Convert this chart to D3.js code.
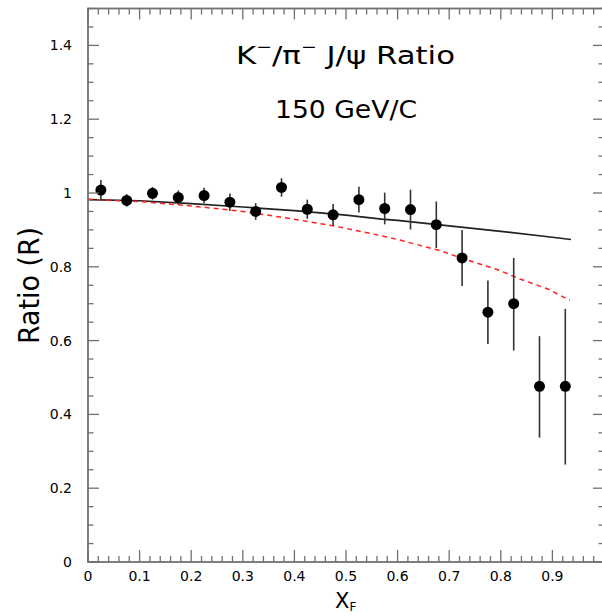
<!DOCTYPE html>
<html>
<head>
<meta charset="utf-8">
<script src="https://cdn.jsdelivr.net/npm/d3@7"></script>
<style>
  html, body { margin: 0; padding: 0; background: #fff; }
  svg { display: block; }
  text { font-family: "DejaVu Sans", sans-serif; fill: #000; }
</style>
</head>
<body>
<svg id="chart" width="602" height="616"></svg>
<script>
// ---- data ----
const xf      = [0.025,0.075,0.125,0.175,0.225,0.275,0.325,0.375,0.425,0.475,0.525,0.575,0.625,0.675,0.725,0.775,0.825,0.875,0.925];
const ratio   = [1.008,0.980,0.999,0.988,0.993,0.975,0.950,1.015,0.956,0.941,0.982,0.958,0.955,0.914,0.824,0.677,0.700,0.476,0.476];
const errLo   = [0.027,0.017,0.017,0.019,0.021,0.0235,0.0225,0.025,0.026,0.029,0.035,0.043,0.054,0.063,0.076,0.086,0.127,0.139,0.212];
const errHi   = [0.027,0.017,0.017,0.019,0.021,0.0235,0.0225,0.025,0.026,0.029,0.035,0.043,0.054,0.063,0.076,0.086,0.124,0.136,0.210];

const solidX  = [0, 0.1, 0.2, 0.3, 0.4, 0.5, 0.569, 0.6, 0.7, 0.8, 0.9, 0.936];
const solidY  = [0.982, 0.979, 0.971, 0.962, 0.952, 0.940, 0.929, 0.926, 0.911, 0.896, 0.880, 0.874];

const dashX   = [0, 0.1, 0.175, 0.2, 0.3, 0.325, 0.4, 0.475, 0.5, 0.569, 0.6, 0.682, 0.725, 0.798, 0.837, 0.891, 0.934];
const dashY   = [0.983, 0.977, 0.968, 0.965, 0.950, 0.945, 0.929, 0.911, 0.904, 0.884, 0.874, 0.844, 0.823, 0.790, 0.767, 0.740, 0.709];

const xTickVals = [0,0.1,0.2,0.3,0.4,0.5,0.6,0.7,0.8,0.9];
const xTickLabels = ["0","0.1","0.2","0.3","0.4","0.5","0.6","0.7","0.8","0.9"];
const yTickVals = [0,0.2,0.4,0.6,0.8,1.0,1.2,1.4];
const yTickLabels = ["0","0.2","0.4","0.6","0.8","1","1.2","1.4"];

// ---- layout ----
const svg = d3.select("#chart");
const x = d3.scaleLinear().domain([0, 1]).range([88, 604]);
const y = d3.scaleLinear().domain([0, 1.5]).range([562, 8.5]);

const frameColor = "#707070";
const xMinor = d3.range(0, 1.0001, 0.02);
const yMinor = d3.range(0, 1.5001, 0.05);

// curves
const line = d3.line().x(d => x(d[0])).y(d => y(d[1]));
svg.append("path")
  .attr("d", line(solidX.map((v,i)=>[v, solidY[i]])))
  .attr("fill","none").attr("stroke","#222").attr("stroke-width",1.7);
svg.append("path")
  .attr("d", line(dashX.map((v,i)=>[v, dashY[i]])))
  .attr("fill","none").attr("stroke","#ff2020").attr("stroke-width",1.5)
  .attr("stroke-dasharray","5,4");

// error bars
const g = svg.append("g");
g.selectAll("line.err").data(xf).join("line")
  .attr("x1", d => x(d)).attr("x2", d => x(d))
  .attr("y1", (d,i) => y(ratio[i] + errHi[i]))
  .attr("y2", (d,i) => y(ratio[i] - errLo[i]))
  .attr("stroke","#333").attr("stroke-width",1.6);
g.selectAll("circle").data(xf).join("circle")
  .attr("cx", d => x(d)).attr("cy", (d,i) => y(ratio[i]))
  .attr("r", 5.5).attr("fill","#000");

// frame
const frame = svg.append("g");
frame.append("rect")
  .attr("x", x(0)).attr("y", y(1.5))
  .attr("width", x(1) - x(0)).attr("height", y(0) - y(1.5))
  .attr("fill","none").attr("stroke",frameColor).attr("stroke-width",1.8);

function isMajorX(v){ return Math.abs(v*10 - Math.round(v*10)) < 1e-6; }
function isMajorY(v){ return Math.abs(v*5 - Math.round(v*5)) < 1e-6; }
xMinor.forEach(v => {
  const len = isMajorX(v) ? 12 : 6;
  frame.append("line").attr("x1",x(v)).attr("x2",x(v)).attr("y1",y(0)).attr("y2",y(0)-len)
    .attr("stroke",frameColor).attr("stroke-width",1.3);
  frame.append("line").attr("x1",x(v)).attr("x2",x(v)).attr("y1",y(1.5)).attr("y2",y(1.5)+ (isMajorX(v)?11:6))
    .attr("stroke",frameColor).attr("stroke-width",1.3);
});
yMinor.forEach(v => {
  const len = isMajorY(v) ? 11 : 5.5;
  frame.append("line").attr("x1",x(0)).attr("x2",x(0)+len).attr("y1",y(v)).attr("y2",y(v))
    .attr("stroke",frameColor).attr("stroke-width",1.3);
  frame.append("line").attr("x1",x(1)).attr("x2",x(1)-len).attr("y1",y(v)).attr("y2",y(v))
    .attr("stroke",frameColor).attr("stroke-width",1.3);
});

// tick labels
svg.append("g").selectAll("text").data(xTickVals).join("text")
  .attr("x", d => x(d)).attr("y", 581)
  .attr("text-anchor","middle").attr("font-size",14)
  .text((d,i) => xTickLabels[i]);
svg.append("g").selectAll("text").data(yTickVals).join("text")
  .attr("x", 72).attr("y", d => y(d) + 5)
  .attr("text-anchor","end").attr("font-size",14)
  .text((d,i) => yTickLabels[i]);

// axis titles
svg.append("text")
  .attr("transform","translate(39,285.5) rotate(-90)")
  .attr("text-anchor","middle").attr("font-size",28)
  .attr("textLength",117).attr("lengthAdjust","spacingAndGlyphs")
  .text("Ratio (R)");
const xl = svg.append("text").attr("x",335).attr("y",608).attr("font-size",21);
xl.append("tspan").text("X");
xl.append("tspan").attr("font-size",12).attr("dy",3).text("F");

// titles
const t1 = svg.append("text").attr("x",236).attr("y",64).attr("font-size",24.5)
  .attr("textLength",219).attr("lengthAdjust","spacingAndGlyphs");
t1.append("tspan").text("K");
t1.append("tspan").attr("font-size",15).attr("dy",-12).text("\u2212");
t1.append("tspan").attr("dy",12).text("/\u03C0");
t1.append("tspan").attr("font-size",15).attr("dy",-12).text("\u2212");
t1.append("tspan").attr("dy",12).text(" J/\u03C8 Ratio");
svg.append("text").attr("x",275).attr("y",118).attr("font-size",24.5)
  .attr("textLength",142).attr("lengthAdjust","spacingAndGlyphs")
  .text("150 GeV/C");
</script>
</body>
</html>
